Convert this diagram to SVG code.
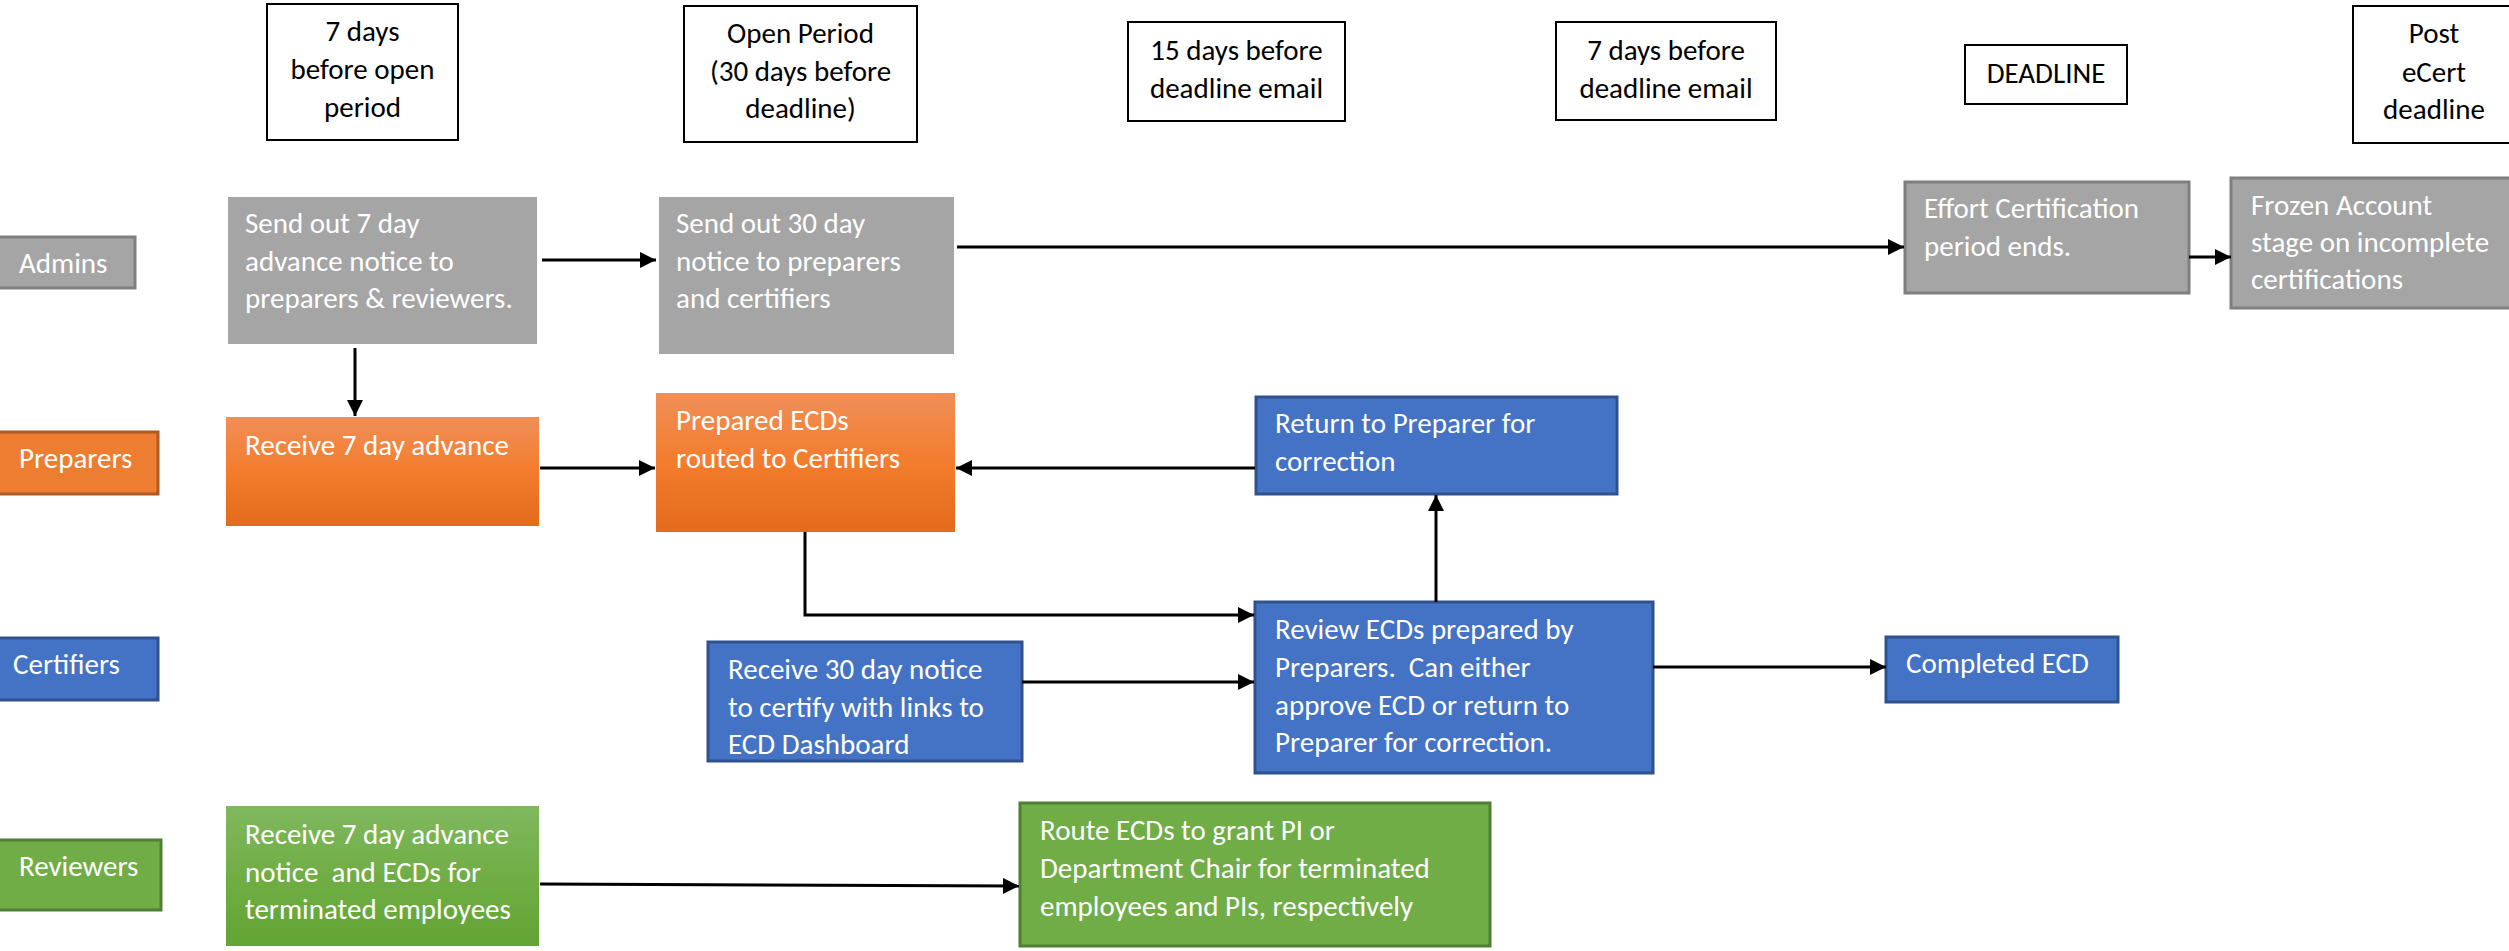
<svg xmlns="http://www.w3.org/2000/svg" width="2509" height="951" viewBox="0 0 2509 951">
<style>
text{font-family:Carlito,Calibri,Lato,"Liberation Sans",sans-serif;font-size:29px}
.hdr rect{fill:#fff;stroke:#000;stroke-width:2}
.hdr text{fill:#000;text-anchor:middle}
.w{fill:#fff}
.gray{fill:#a5a5a5}
.grayb{fill:#a5a5a5;stroke:#7f7f7f;stroke-width:3}
.blue{fill:#4472c4;stroke:#2f528f;stroke-width:3}
.orng{fill:#ed7d31;stroke:#ae5a21;stroke-width:3}
.grn{fill:#70ad47;stroke:#507e32;stroke-width:3}
.conn{fill:none;stroke:#000;stroke-width:3;marker-end:url(#ah)}
</style>
<defs>
<marker id="ah" markerUnits="userSpaceOnUse" markerWidth="16" markerHeight="16" refX="16" refY="8" orient="auto">
<path d="M0,0 L16,8 L0,16 Z" fill="#000"/>
</marker>
<linearGradient id="og" x1="0" y1="0" x2="0" y2="1">
<stop offset="0" stop-color="#f08f58"/><stop offset="0.5" stop-color="#f37c2d"/><stop offset="1" stop-color="#e36b1b"/>
</linearGradient>
<linearGradient id="gg" x1="0" y1="0" x2="0" y2="1">
<stop offset="0" stop-color="#80b85f"/><stop offset="0.5" stop-color="#70ae45"/><stop offset="1" stop-color="#63a434"/>
</linearGradient>
</defs>
<rect width="2509" height="951" fill="#fff"/>

<g id="hdr-7days" class="hdr"><rect x="267" y="4" width="191" height="136"/><text x="362.5" y="41">7 days</text><text x="362.5" y="79">before open</text><text x="362.5" y="117">period</text></g>
<g id="hdr-open" class="hdr"><rect x="684" y="6" width="233" height="136"/><text x="800.5" y="43">Open Period</text><text x="800.5" y="81">(30 days before</text><text x="800.5" y="118">deadline)</text></g>
<g id="hdr-15days" class="hdr"><rect x="1128" y="22" width="217" height="99"/><text x="1236.5" y="60">15 days before</text><text x="1236.5" y="98">deadline email</text></g>
<g id="hdr-7email" class="hdr"><rect x="1556" y="22" width="220" height="98"/><text x="1666" y="60">7 days before</text><text x="1666" y="98">deadline email</text></g>
<g id="hdr-deadline" class="hdr"><rect x="1965" y="45" width="162" height="59"/><text x="2046" y="83">DEADLINE</text></g>
<g id="hdr-post" class="hdr"><rect x="2353" y="6" width="170" height="137"/><text x="2434" y="43">Post</text><text x="2434" y="82">eCert</text><text x="2434" y="119">deadline</text></g>

<g id="lane-admins"><rect class="grayb" x="-2" y="237" width="137" height="51"/><text class="w" x="19" y="273">Admins</text></g>
<g id="lane-preparers"><rect class="orng" x="-2" y="432" width="160" height="62"/><text class="w" x="19" y="468">Preparers</text></g>
<g id="lane-certifiers"><rect class="blue" x="-2" y="638" width="160" height="62"/><text class="w" x="13" y="674">Certifiers</text></g>
<g id="lane-reviewers"><rect class="grn" x="-2" y="840" width="163" height="70"/><text class="w" x="19" y="876">Reviewers</text></g>

<g id="send7"><rect class="gray" x="228" y="197" width="309" height="147"/><text class="w" x="245" y="233">Send out 7 day</text><text class="w" x="245" y="271">advance notice to</text><text class="w" x="245" y="308">preparers &amp; reviewers.</text></g>
<g id="send30"><rect class="gray" x="659" y="197" width="295" height="157"/><text class="w" x="676" y="233">Send out 30 day</text><text class="w" x="676" y="271">notice to preparers</text><text class="w" x="676" y="308">and certifiers</text></g>
<g id="effort"><rect class="grayb" x="1905" y="182" width="284" height="111"/><text class="w" x="1924" y="218">Effort Certification</text><text class="w" x="1924" y="256">period ends.</text></g>
<g id="frozen"><rect class="grayb" x="2231" y="178" width="290" height="130"/><text class="w" x="2251" y="215">Frozen Account</text><text class="w" x="2251" y="252">stage on incomplete</text><text class="w" x="2251" y="289">certifications</text></g>

<g id="receive7"><rect fill="url(#og)" x="226" y="417" width="313" height="109"/><text class="w" x="245" y="455">Receive 7 day advance</text></g>
<g id="prepared"><rect fill="url(#og)" x="656" y="393" width="299" height="139"/><text class="w" x="676" y="430">Prepared ECDs</text><text class="w" x="676" y="468">routed to Certifiers</text></g>
<g id="return"><rect class="blue" x="1256" y="397" width="361" height="97"/><text class="w" x="1275" y="433">Return to Preparer for</text><text class="w" x="1275" y="471">correction</text></g>

<g id="review"><rect class="blue" x="1255" y="602" width="398" height="171"/><text class="w" x="1275" y="639">Review ECDs prepared by</text><text class="w" x="1275" y="677" xml:space="preserve">Preparers.  Can either</text><text class="w" x="1275" y="715">approve ECD or return to</text><text class="w" x="1275" y="752">Preparer for correction.</text></g>
<g id="receive30"><rect class="blue" x="708" y="642" width="314" height="119"/><text class="w" x="728" y="679">Receive 30 day notice</text><text class="w" x="728" y="717">to certify with links to</text><text class="w" x="728" y="754">ECD Dashboard</text></g>
<g id="completed"><rect class="blue" x="1886" y="637" width="232" height="65"/><text class="w" x="1906" y="673">Completed ECD</text></g>

<g id="reviewers-notice"><rect fill="url(#gg)" x="226" y="806" width="313" height="140"/><text class="w" x="245" y="844">Receive 7 day advance</text><text class="w" x="245" y="882" xml:space="preserve">notice  and ECDs for</text><text class="w" x="245" y="919">terminated employees</text></g>
<g id="route"><rect class="grn" x="1020" y="803" width="470" height="143"/><text class="w" x="1040" y="840">Route ECDs to grant PI or</text><text class="w" x="1040" y="878">Department Chair for terminated</text><text class="w" x="1040" y="916">employees and PIs, respectively</text></g>

<g id="connectors">
<path class="conn" d="M542,260 H656"/>
<path class="conn" d="M355,348 V416"/>
<path class="conn" d="M540,468 H655"/>
<path class="conn" d="M1255,468 H956"/>
<path class="conn" d="M957,247 H1904"/>
<path class="conn" d="M2189,257 H2231"/>
<path class="conn" d="M805,532 V615 H1254"/>
<path class="conn" d="M1436,602 V495"/>
<path class="conn" d="M1022,682 H1254"/>
<path class="conn" d="M1653,667 H1886"/>
<path class="conn" d="M540,884 L1019,886"/>
</g>
</svg>
